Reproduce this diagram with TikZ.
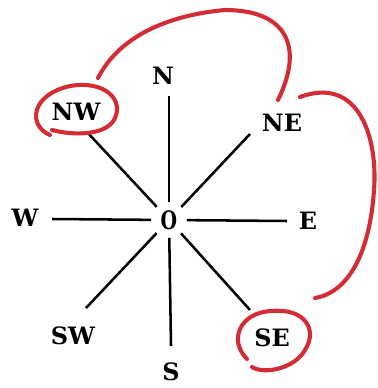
\documentclass[tikz,border=0pt]{standalone}
\usepackage{fontspec}
\usetikzlibrary{positioning}
\newfontfamily\compassfont{DejaVu Serif}
\definecolor{penRed}{RGB}{212,44,52}
\tikzset{
myLabel/.style={
	inner sep=0pt, text=black,
	font=\compassfont\fontsize{17}{20}\selectfont\bfseries
}
, myOrigin/.style={
	circle, inner sep=2.5pt, text=black,
	font=\compassfont\fontsize{18}{20}\selectfont\bfseries
}
% rays and pen marks
, myRay/.style={-,color=black,line width=1.8pt}
, myPen/.style={color=penRed,line width=2.9pt,line cap=round,line join=round}
}
\begin{document}
\begin{tikzpicture}[x=0.025cm,y=-0.025cm]
	\useasboundingbox (0,0) rectangle (377,388);
	% centre
	\node[myOrigin] (O) at (169,220) {\scalebox{0.75}[1]{O}};
	% labels
	\node[myLabel] (N)  at (163,76)  {N};
	\node[myLabel] (NE) at (282,123) {NE};
	\node[myLabel] (E)  at (308,221) {E};
	\node[myLabel] (SE) at (272,338) {SE};
	\node[myLabel] (S)  at (171,372) {S};
	\node[myLabel] (SW) at (73,336)  {SW};
	\node[myLabel] (W)  at (25,218)  {W};
	\node[myLabel] (NW) at (76,112)  {NW};
	% ray tips
	\coordinate (tipN)  at (169,96);
	\coordinate (tipNE) at (250,134);
	\coordinate (tipE)  at (287,221);
	\coordinate (tipSE) at (250,310);
	\coordinate (tipS)  at (171,346);
	\coordinate (tipSW) at (86,308);
	\coordinate (tipW)  at (52,219);
	\coordinate (tipNW) at (87,132);
	% rays
	\foreach \d in {N,NE,E,SE,S,SW,W,NW}
		\draw [myRay] (O) -- (tip\d);

	% pen marks
	\draw [myPen] (50,135) .. controls (28,126) and (30,95) .. (70,86)
		.. controls (105,80) and (125,100) .. (114,120)
		.. controls (105,135) and (75,136) .. (52,130);
	\draw [myPen] (247,359) .. controls (228,340) and (240,312) .. (272,311)
		.. controls (305,308) and (318,330) .. (305,350)
		.. controls (295,368) and (265,375) .. (252,367);
	\draw [myPen] (98,78) .. controls (120,35) and (170,15) .. (225,10)
		.. controls (285,10) and (305,45) .. (278,100);
	\draw [myPen] (300,97) .. controls (360,75) and (378,140) .. (374,190)
		.. controls (370,250) and (350,292) .. (315,298);
\end{tikzpicture}
\end{document}
